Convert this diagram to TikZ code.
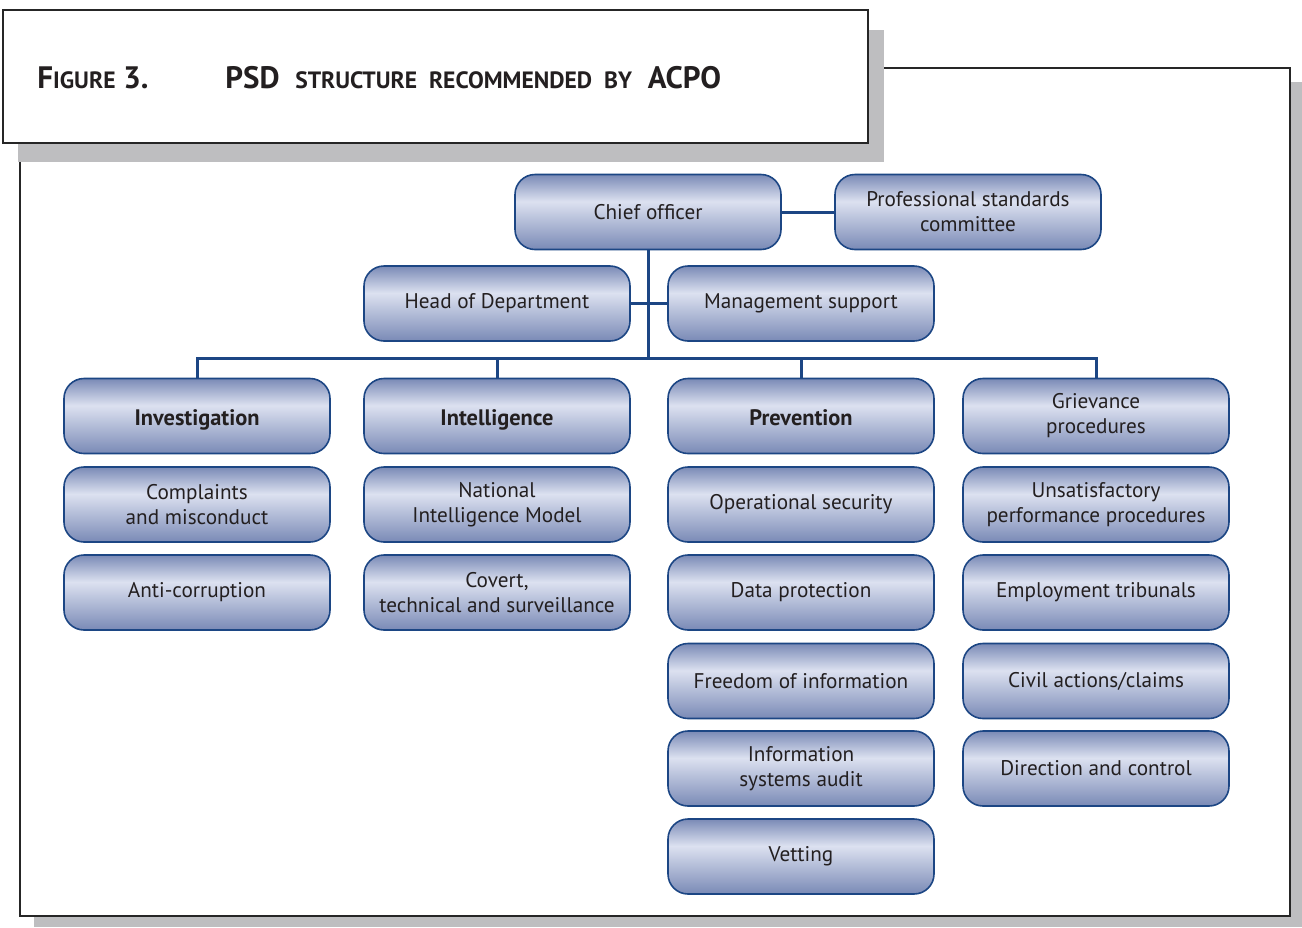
\documentclass[tikz,border=0pt]{standalone}
\usepackage{fontspec}
\setmainfont{PT Sans}

\definecolor{psdblue}{RGB}{28,70,132}
\definecolor{boxdark}{RGB}{122,138,182}
\definecolor{boxlight}{RGB}{220,225,240}
\definecolor{txtgrey}{RGB}{35,31,32}
\definecolor{shadowgrey}{RGB}{190,190,192}

\pgfdeclareverticalshading{psdbox}{100bp}{color(0bp)=(boxdark); color(25bp)=(boxdark); color(57bp)=(boxlight); color(75bp)=(boxdark); color(100bp)=(boxdark)}

\newcommand{\smallcap}[1]{{\fontsize{11.8}{13}\selectfont #1}}

\tikzset{
  unit/.style={draw=psdblue, line width=0.8pt, rounded corners=10pt, shading=psdbox,
    minimum width=133pt, minimum height=37.5pt, inner sep=2pt, align=center,
    text=txtgrey, font=\fontsize{10.6}{12.5}\selectfont},
  headunit/.style={unit, font=\fontsize{11.2}{12.5}\selectfont\bfseries, text height=10pt, text depth=1pt},
  link/.style={psdblue, line width=1.5pt},
  frame/.style={draw=black!85, fill=white, line width=1.2pt},
  title/.style={anchor=base west, inner sep=0pt, text=txtgrey, font=\fontsize{15.5}{17}\selectfont\bfseries},
}

\begin{document}
\begin{tikzpicture}[x=0.5pt,y=-0.5pt]
    \useasboundingbox (0,0) rectangle (1302,927);

    % frames with shadows
    \fill[shadowgrey] (34,82) rectangle (1302,927);
    \draw[frame] (20,68) rectangle (1290,916);
    \fill[shadowgrey] (18,30) rectangle (884,162);
    \draw[frame] (3,10) rectangle (868,143);

    % title
    \node [title] (fignum) at (37,88) {F\smallcap{IGURE} 3.};
    \node [title] (figtitle) at (225,88) {PSD\ \ \smallcap{STRUCTURE\ \ RECOMMENDED\ \ BY}\ \ ACPO};

    % top of the structure
    \node [unit] (chief) at (648,212) {Chief officer};
    \node [unit] (pscom) at (968,212) {Professional standards\\committee};
    \node [unit] (hod)   at (497,303.5) {Head of Department};
    \node [unit] (mgmt)  at (801,303.5) {Management support};

    % investigation
    \node [headunit] (inv)  at (197,416)   {Investigation};
    \node [unit] (compl)    at (197,504.5) {Complaints\\and misconduct};
    \node [unit] (anticor)  at (197,592.5) {Anti-corruption};

    % intelligence
    \node [headunit] (intel) at (497,416)  {Intelligence};
    \node [unit] (nim)      at (497,504.5) {National\\Intelligence Model};
    \node [unit] (covert)   at (497,592.5) {Covert,\\technical and surveillance};

    % prevention
    \node [headunit] (prev) at (801,416)   {Prevention};
    \node [unit] (opsec)    at (801,504.5) {Operational security};
    \node [unit] (dataprot) at (801,592.5) {Data protection};
    \node [unit] (foi)      at (801,681)   {Freedom of information};
    \node [unit] (isaudit)  at (801,768.5) {Information\\systems audit};
    \node [unit] (vetting)  at (801,856.5) {Vetting};

    % grievance
    \node [unit] (griev)    at (1096,416)   {Grievance\\procedures};
    \node [unit] (unsat)    at (1096,504.5) {Unsatisfactory\\performance procedures};
    \node [unit] (tribunal) at (1096,592.5) {Employment tribunals};
    \node [unit] (civil)    at (1096,681)   {Civil actions/claims};
    \node [unit] (dirctl)   at (1096,768.5) {Direction and control};

    % connectors
    \coordinate (bus) at (648,358);
    \draw[link] (chief) -- (pscom);
    \draw[link] (chief.south) -- (bus);
    \draw[link] (hod.east) -- (mgmt.west);
    \draw[link] (inv.north) |- (bus) -| (griev.north);
    \draw[link] (intel.north) -- (intel.north |- bus);
    \draw[link] (prev.north) -- (prev.north |- bus);

\end{tikzpicture}
\end{document}
